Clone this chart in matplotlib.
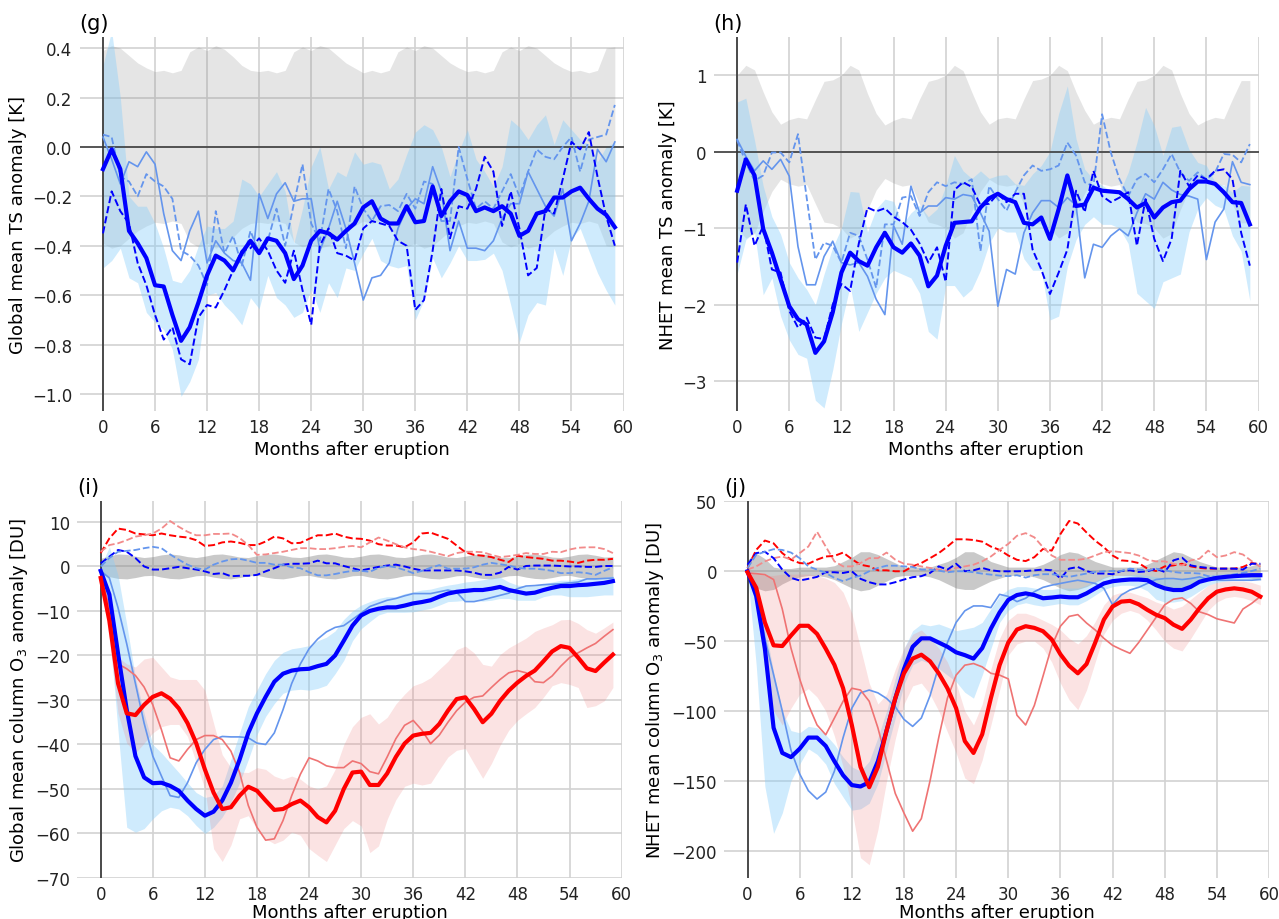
import matplotlib
matplotlib.use('Agg')
import matplotlib.pyplot as plt
import numpy as np

plt.rcParams['font.family'] = ['DejaVu Sans']

months = list(range(60))
xticks = list(range(0, 61, 6))

# ---------------- (g) Global mean TS ----------------
g_mean = [-0.09, -0.01, -0.09, -0.34, -0.39, -0.45, -0.56, -0.565, -0.68, -0.785,
          -0.73, -0.63, -0.52, -0.44, -0.46, -0.50, -0.43, -0.38, -0.43, -0.37,
          -0.38, -0.43, -0.535, -0.48, -0.38, -0.34, -0.35, -0.375, -0.34, -0.31,
          -0.245, -0.22, -0.29, -0.31, -0.31, -0.24, -0.305, -0.30, -0.16, -0.28,
          -0.22, -0.18, -0.195, -0.26, -0.245, -0.26, -0.24, -0.27, -0.36, -0.34,
          -0.27, -0.26, -0.205, -0.205, -0.18, -0.165, -0.21, -0.25, -0.275, -0.325]
g_thin = [0.04, -0.05, -0.15, -0.06, -0.08, -0.02, -0.07, -0.27, -0.42, -0.46,
          -0.34, -0.26, -0.47, -0.38, -0.43, -0.46, -0.47, -0.54, -0.19, -0.29,
          -0.19, -0.145, -0.22, -0.21, -0.21, -0.42, -0.33, -0.22, -0.33, -0.47,
          -0.62, -0.53, -0.52, -0.47, -0.33, -0.25, -0.21, -0.23, -0.08, -0.18,
          -0.42, -0.30, -0.41, -0.41, -0.42, -0.38, -0.29, -0.23, -0.23, -0.10,
          -0.17, -0.24, -0.28, -0.17, -0.38, -0.31, -0.22, -0.01, -0.06, 0.02]
g_cf_dash = [0.05, 0.04, -0.12, -0.14, -0.20, -0.11, -0.14, -0.16, -0.21, -0.42,
             -0.44, -0.48, -0.56, -0.26, -0.43, -0.36, -0.48, -0.34, -0.43, -0.38,
             -0.25, -0.40, -0.23, -0.07, -0.31, -0.38, -0.17, -0.26, -0.41, -0.16,
             -0.25, -0.30, -0.24, -0.235, -0.26, -0.19, -0.25, -0.14, -0.15, -0.30,
             -0.30, 0.00, -0.13, -0.25, -0.22, -0.25, -0.18, -0.11, -0.20, -0.10,
             -0.01, -0.04, -0.05, 0.00, 0.04, -0.10, 0.03, 0.04, 0.05, 0.17]
g_b_dash = [-0.35, -0.18, -0.26, -0.31, -0.47, -0.56, -0.68, -0.78, -0.73, -0.86,
            -0.88, -0.69, -0.64, -0.65, -0.58, -0.50, -0.42, -0.41, -0.37, -0.42,
            -0.50, -0.55, -0.42, -0.58, -0.72, -0.40, -0.33, -0.43, -0.44, -0.46,
            -0.33, -0.30, -0.31, -0.32, -0.38, -0.40, -0.66, -0.62, -0.42, -0.17,
            -0.37, -0.24, -0.25, -0.17, -0.04, -0.10, -0.32, -0.18, -0.33, -0.52,
            -0.49, -0.25, -0.27, -0.13, 0.02, -0.01, 0.06, -0.12, -0.28, -0.40]
g_band_hi = [0.33, 0.47, 0.20, -0.20, -0.24, -0.24, -0.31, -0.41, -0.54, -0.55,
             -0.50, -0.40, -0.32, -0.33, -0.33, -0.30, -0.13, -0.15, -0.20, -0.15,
             -0.10, -0.18, -0.39, -0.25, -0.08, 0.00, -0.17, -0.10, -0.12, -0.02,
             -0.07, -0.06, -0.07, -0.17, -0.13, -0.03, 0.06, 0.09, 0.07, 0.00,
             -0.12, -0.02, 0.07, -0.05, -0.10, -0.16, -0.08, 0.11, 0.08, 0.03,
             0.09, 0.13, 0.01, 0.11, 0.07, 0.03, 0.01, -0.06, 0.00, 0.02]
g_band_lo = [-0.49, -0.46, -0.41, -0.53, -0.55, -0.67, -0.71, -0.74, -0.82, -1.01,
             -0.95, -0.86, -0.60, -0.59, -0.64, -0.675, -0.72, -0.61, -0.655, -0.52,
             -0.61, -0.64, -0.69, -0.67, -0.575, -0.67, -0.55, -0.61, -0.49, -0.50,
             -0.43, -0.37, -0.46, -0.48, -0.49, -0.48, -0.70, -0.62, -0.45, -0.53,
             -0.47, -0.40, -0.46, -0.46, -0.455, -0.43, -0.50, -0.64, -0.79, -0.68,
             -0.63, -0.64, -0.41, -0.52, -0.37, -0.33, -0.42, -0.51, -0.58, -0.64]
g_ctrl_hi = [0.39, 0.41, 0.40, 0.37, 0.34, 0.32, 0.305, 0.31, 0.30, 0.31, 0.385, 0.405,
             0.39, 0.41, 0.395, 0.365, 0.33, 0.31, 0.305, 0.31, 0.30, 0.31, 0.385, 0.405,
             0.39, 0.41, 0.40, 0.37, 0.34, 0.32, 0.30, 0.31, 0.30, 0.31, 0.385, 0.405,
             0.39, 0.41, 0.40, 0.37, 0.34, 0.32, 0.305, 0.31, 0.30, 0.31, 0.385, 0.405,
             0.39, 0.41, 0.40, 0.37, 0.34, 0.32, 0.305, 0.31, 0.30, 0.31, 0.40, 0.405]
g_ctrl_lo = [-0.39, -0.41, -0.40, -0.37, -0.34, -0.32, -0.305, -0.31, -0.30, -0.31, -0.385, -0.405,
             -0.39, -0.41, -0.395, -0.365, -0.33, -0.31, -0.305, -0.31, -0.30, -0.31, -0.385, -0.405,
             -0.39, -0.41, -0.40, -0.37, -0.34, -0.32, -0.30, -0.31, -0.30, -0.31, -0.385, -0.405,
             -0.39, -0.41, -0.40, -0.37, -0.34, -0.32, -0.305, -0.31, -0.30, -0.31, -0.385, -0.405,
             -0.39, -0.41, -0.40, -0.37, -0.34, -0.32, -0.305, -0.31, -0.30, -0.31, -0.40, -0.405]

# ---------------- (h) NHET mean TS ----------------
h_mean = [-0.51, -0.10, -0.31, -1.01, -1.32, -1.67, -2.02, -2.19, -2.26, -2.63,
          -2.48, -2.10, -1.58, -1.32, -1.43, -1.49, -1.25, -1.06, -1.25, -1.32,
          -1.20, -1.36, -1.76, -1.62, -1.23, -0.93, -0.92, -0.91, -0.73, -0.61,
          -0.55, -0.62, -0.66, -0.93, -0.95, -0.86, -1.14, -0.75, -0.31, -0.71,
          -0.69, -0.47, -0.51, -0.52, -0.53, -0.62, -0.73, -0.67, -0.86, -0.73,
          -0.66, -0.64, -0.49, -0.39, -0.39, -0.42, -0.53, -0.66, -0.67, -0.95]
h_thin = [0.16, -0.06, -0.25, -0.12, -0.23, -0.10, -0.32, -1.24, -1.74, -1.74,
          -1.37, -1.17, -1.45, -1.48, -1.45, -1.63, -1.93, -2.13, -0.97, -1.21,
          -0.45, -0.80, -0.71, -0.71, -0.60, -0.62, -0.56, -0.58, -0.80, -1.04,
          -2.02, -1.54, -1.60, -1.06, -0.80, -0.64, -0.64, -0.73, -0.60, -0.70,
          -1.65, -1.21, -1.25, -1.10, -1.01, -1.10, -0.80, -0.55, -0.62, -0.40,
          -0.50, -0.56, -0.58, -0.62, -1.41, -0.92, -0.75, -0.13, -0.40, -0.43]
h_cf_dash = [0.15, -0.14, -0.38, -0.31, -0.01, -0.01, -0.14, 0.23, -0.60, -1.41,
             -1.19, -1.23, -1.45, -1.06, -1.10, -1.41, -1.78, -0.95, -0.95, -0.60,
             -0.58, -0.84, -0.53, -0.40, -0.45, -0.40, -0.42, -0.36, -1.30, -0.45,
             -0.62, -0.77, -0.53, -0.31, -0.18, -0.25, -0.23, -0.18, 0.12, -0.05,
             -0.40, -0.45, 0.49, -0.01, -0.36, -0.58, -0.36, -0.29, -0.40, -0.23,
             -0.03, -0.27, -0.38, -0.27, -0.36, -0.27, -0.03, -0.04, -0.14, 0.10]
h_b_dash = [-1.45, -0.69, -1.23, -0.97, -1.54, -1.58, -2.08, -2.30, -2.17, -2.43,
            -2.45, -2.00, -1.73, -1.82, -1.20, -0.73, -0.78, -0.74, -0.85, -0.92,
            -1.02, -1.20, -1.45, -1.25, -1.70, -0.50, -0.40, -0.46, -0.70, -0.68,
            -0.55, -0.66, -0.55, -0.55, -1.28, -1.54, -1.86, -1.58, -1.28, -0.51,
            -0.79, -0.25, -0.58, -0.66, -0.60, -0.53, -1.23, -0.62, -1.14, -1.43,
            -1.14, -0.25, -0.45, -0.31, -0.36, -0.25, -0.23, -0.36, -1.06, -1.49]
h_band_hi = [0.65, 0.70, 0.15, -0.45, -0.85, -1.08, -1.45, -1.65, -1.80, -2.00,
             -1.60, -1.25, -1.00, -0.52, -0.53, -1.05, -0.75, -0.62, -0.65, -0.95,
             -0.80, -0.70, -0.85, -0.75, -0.45, -0.05, -0.25, -0.35, -0.25, -0.35,
             -0.31, -0.30, -0.42, -0.44, -0.29, -0.18, 0.00, 0.50, 0.86, 0.17,
             -0.23, -0.36, -0.44, -0.51, -0.53, -0.27, 0.12, 0.58, 0.34, -0.05,
             0.32, 0.34, 0.03, -0.14, -0.18, -0.40, -0.44, -0.53, -0.44, -0.45]
h_band_lo = [-1.60, -1.15, -1.05, -1.87, -1.65, -2.15, -2.46, -2.65, -2.70, -3.25,
             -3.35, -2.85, -2.25, -1.75, -2.35, -2.10, -1.85, -1.65, -1.55, -1.60,
             -1.65, -1.85, -2.35, -2.45, -1.75, -1.75, -1.90, -1.80, -1.55, -1.20,
             -1.00, -1.05, -1.05, -1.40, -1.55, -1.55, -2.20, -2.15, -1.50, -1.15,
             -0.95, -0.85, -0.95, -0.95, -1.00, -1.20, -1.85, -1.95, -2.05, -1.70,
             -1.65, -1.60, -1.05, -0.75, -0.60, -0.70, -0.75, -1.10, -1.30, -1.95]
h_ctrl_hi = [1.00, 1.13, 1.07, 0.78, 0.52, 0.36, 0.42, 0.45, 0.43, 0.68, 0.92, 0.94,
             1.00, 1.13, 1.07, 0.76, 0.50, 0.35, 0.41, 0.45, 0.43, 0.69, 0.92, 0.95,
             1.00, 1.13, 1.06, 0.78, 0.52, 0.36, 0.43, 0.45, 0.43, 0.69, 0.93, 0.95,
             1.00, 1.13, 1.06, 0.78, 0.54, 0.36, 0.42, 0.45, 0.43, 0.69, 0.92, 0.94,
             1.00, 1.13, 1.07, 0.76, 0.50, 0.35, 0.41, 0.45, 0.43, 0.69, 0.93, 0.93]
h_ctrl_lo = [-1.00, -1.13, -1.07, -0.78, -0.52, -0.36, -0.42, -0.45, -0.43, -0.68, -0.92, -0.94,
             -1.00, -1.13, -1.07, -0.76, -0.50, -0.35, -0.41, -0.45, -0.43, -0.69, -0.92, -0.95,
             -1.00, -1.13, -1.06, -0.78, -0.52, -0.36, -0.43, -0.45, -0.43, -0.69, -0.93, -0.95,
             -1.00, -1.13, -1.06, -0.78, -0.54, -0.36, -0.42, -0.45, -0.43, -0.69, -0.92, -0.94,
             -1.00, -1.13, -1.07, -0.76, -0.50, -0.35, -0.41, -0.45, -0.43, -0.69, -0.93, -0.93]

# ---------------- (i) Global mean column O3 ----------------
i_mean = [-1.0, -6.3, -19.6, -32.2, -42.6, -47.4, -48.7, -48.6, -49.3, -50.4,
          -52.6, -54.5, -56.0, -55.1, -52.6, -48.6, -43.4, -37.4, -33.0, -29.3,
          -25.9, -24.1, -23.4, -23.1, -23.0, -22.4, -21.9, -20.0, -16.7, -13.3,
          -11.0, -10.0, -9.5, -9.2, -9.2, -8.8, -8.3, -8.0, -7.6, -6.8,
          -6.1, -5.7, -5.5, -5.3, -5.3, -5.0, -4.6, -5.3, -5.7, -6.1,
          -5.9, -5.3, -4.8, -4.4, -4.4, -4.2, -4.1, -3.9, -3.7, -3.3]
i_thin = [-1.0, -2.6, -9.3, -17.4, -26.3, -35.2, -42.6, -47.1, -51.5, -51.9,
          -48.6, -44.1, -41.1, -38.9, -38.2, -38.3, -38.3, -38.5, -39.7, -40.0,
          -37.4, -32.2, -26.3, -21.9, -18.5, -16.3, -14.7, -13.7, -13.3, -11.9,
          -10.5, -9.0, -8.3, -7.6, -7.2, -6.6, -6.1, -6.1, -6.1, -5.7,
          -5.3, -5.8, -7.9, -7.9, -7.5, -7.0, -6.5, -6.0, -5.0, -4.4,
          -4.3, -4.1, -4.0, -3.9, -3.7, -3.5, -2.8, -2.8, -2.7, -2.6]
i_b_dash = [0.7, 2.2, 3.7, 3.3, 1.9, 0.0, -0.7, -0.7, -0.4, -0.1,
            -0.4, -0.7, -1.1, -1.7, -1.5, -2.2, -2.1, -2.1, -1.9, -1.1,
            -0.4, 0.4, 0.6, 0.6, 0.7, 1.3, 0.7, 0.7, 0.1, -0.4,
            -0.9, -0.5, -0.1, 0.2, 0.4, 0.0, -0.5, -0.9, -0.9, -0.9,
            -0.9, -0.9, -1.1, -1.4, -1.9, -1.9, -1.4, -0.1, -0.7, 0.1,
            0.2, 0.2, 0.2, 0.1, 0.0, 0.0, -0.1, -0.1, 0.1, 0.1]
i_cf_dash = [0.0, 1.9, 3.3, 3.5, 3.7, 4.1, 4.4, 4.1, 2.7, 1.5,
             0.4, -0.4, -0.7, 0.4, 1.1, 1.6, 1.7, 1.3, 0.8, 0.8,
             0.4, 0.4, -0.2, -0.4, -1.3, -2.0, -2.0, -1.7, -1.3, -1.0,
             -1.0, -1.2, -0.3, 0.1, -0.2, -0.8, -1.5, -1.0, -0.3, 0.3,
             -0.5, -0.5, -0.5, -0.2, 0.4, 0.8, 0.5, 0.2, -0.3, -0.5,
             -0.5, -0.7, -1.0, -1.5, -1.5, -1.3, -1.5, -1.9, -1.0, -0.2]
i_red = [-2.6, -12.2, -26.3, -33.0, -33.4, -31.1, -29.3, -28.5, -29.7, -31.9,
         -35.2, -39.7, -45.6, -50.8, -54.5, -54.1, -51.5, -49.5, -50.4, -52.6,
         -54.7, -54.5, -53.4, -52.6, -54.1, -56.3, -57.5, -54.9, -50.0, -46.3,
         -46.1, -49.1, -49.1, -46.5, -42.8, -39.8, -38.0, -37.6, -37.4, -35.4,
         -32.4, -29.8, -29.4, -32.0, -35.0, -33.1, -30.2, -27.9, -26.1, -24.6,
         -23.4, -21.3, -19.1, -17.9, -18.3, -20.5, -22.9, -23.5, -21.6, -19.8]
i_red_thin = [-1.9, -9.3, -21.9, -23.0, -24.5, -27.1, -31.1, -36.7, -43.0, -43.7,
              -41.1, -38.9, -38.0, -38.0, -38.9, -41.5, -46.3, -53.7, -58.6, -61.5,
              -61.2, -57.1, -51.5, -46.7, -43.0, -43.7, -44.8, -45.2, -45.2, -43.7,
              -44.3, -46.1, -46.6, -42.8, -38.7, -35.7, -34.6, -36.8, -39.8, -37.9,
              -35.0, -32.4, -30.5, -29.4, -29.1, -27.2, -25.4, -23.9, -23.4, -23.9,
              -25.9, -26.1, -24.6, -22.4, -20.5, -19.4, -18.3, -17.3, -15.7, -14.2]
i_r_dash = [3.0, 6.3, 8.5, 8.2, 7.4, 7.2, 7.0, 7.4, 7.0, 6.7,
            6.5, 5.9, 4.6, 4.8, 5.4, 5.6, 5.3, 4.8, 4.8, 5.6,
            6.7, 6.3, 5.2, 5.3, 6.2, 7.0, 7.0, 7.4, 6.7, 6.3,
            6.2, 5.8, 5.0, 4.7, 4.7, 4.3, 5.4, 7.4, 7.6, 6.9,
            6.2, 4.7, 3.2, 2.6, 2.4, 2.1, 1.5, 1.0, 2.4, 2.1,
            1.9, 1.7, 1.3, 1.3, 1.1, 0.8, 1.3, 1.5, 1.5, 1.7]
i_lc_dash = [3.3, 4.8, 5.2, 5.9, 6.7, 7.0, 7.4, 8.5, 10.2, 8.9,
             7.8, 7.0, 7.0, 7.3, 7.3, 7.4, 6.4, 4.8, 2.6, 2.7,
             3.0, 3.3, 3.7, 4.1, 4.1, 3.9, 3.9, 4.1, 4.4, 4.6,
             4.3, 5.4, 6.5, 5.8, 5.0, 4.3, 3.9, 3.7, 3.3, 2.8,
             2.3, 3.0, 3.3, 3.3, 3.2, 2.6, 2.1, 2.3, 2.6, 3.0,
             2.8, 2.8, 3.3, 3.2, 3.8, 4.2, 4.3, 4.3, 3.9, 3.0]
i_band_hi = [0.0, 4.4, -2.0, -13.0, -25.0, -33.0, -40.0, -41.9, -44.1, -46.3,
             -48.6, -50.8, -51.9, -51.5, -49.3, -43.4, -37.4, -31.5, -27.8, -24.1,
             -21.1, -19.3, -18.5, -18.2, -17.8, -16.7, -15.9, -14.5, -11.9, -10.0,
             -8.7, -7.9, -7.2, -6.8, -6.8, -6.1, -5.7, -5.3, -5.1, -4.6,
             -4.2, -3.9, -3.5, -3.3, -3.0, -2.6, -2.4, -3.5, -4.2, -4.4,
             -4.4, -3.9, -3.5, -3.1, -3.1, -2.7, -2.7, -2.5, -2.5, -2.1]
i_band_lo = [-0.7, -14.0, -37.0, -58.6, -59.7, -58.9, -56.7, -54.9, -54.1, -54.5,
             -56.0, -58.2, -60.0, -58.6, -56.3, -53.0, -48.6, -43.4, -37.8, -33.7,
             -30.8, -28.5, -27.8, -27.6, -27.8, -27.4, -26.7, -24.1, -21.1, -16.7,
             -14.0, -12.4, -10.9, -10.3, -10.3, -10.3, -10.2, -9.8, -9.4, -8.7,
             -7.9, -7.8, -7.6, -7.6, -7.8, -7.6, -7.2, -7.2, -7.6, -7.6,
             -7.6, -6.8, -6.4, -6.4, -6.8, -6.8, -6.8, -6.6, -6.4, -6.4]
i_pink_hi = [-1.5, -9.3, -20.4, -21.9, -22.6, -20.8, -20.4, -22.6, -24.8, -25.4,
             -25.4, -25.4, -27.8, -35.2, -42.3, -45.2, -46.2, -46.3, -45.2, -45.6,
             -47.1, -47.8, -47.1, -47.8, -49.3, -50.0, -49.3, -45.6, -40.0, -36.0,
             -33.9, -33.1, -35.4, -33.9, -30.9, -28.7, -26.8, -26.1, -25.0, -23.1,
             -21.3, -18.7, -17.9, -19.4, -22.0, -22.4, -19.8, -18.3, -17.2, -16.1,
             -14.6, -13.8, -13.1, -12.0, -11.9, -12.8, -14.2, -15.0, -13.8, -12.5]
i_pink_lo = [-3.0, -16.7, -33.0, -39.7, -41.9, -39.7, -37.4, -36.0, -35.5, -35.5,
             -38.2, -44.1, -50.0, -63.4, -66.3, -62.6, -56.7, -56.0, -58.9, -61.2,
             -62.3, -61.5, -59.7, -60.4, -63.4, -64.9, -66.3, -62.6, -58.9, -57.1,
             -58.3, -64.3, -62.8, -56.8, -52.4, -49.4, -48.7, -49.1, -48.7, -45.7,
             -42.8, -41.3, -40.9, -44.3, -47.6, -44.3, -40.2, -36.8, -34.6, -33.1,
             -31.7, -29.4, -26.8, -26.1, -26.5, -27.2, -31.7, -31.3, -30.2, -27.2]
i_ctrl_hi = [1.8, 2.4, 2.8, 2.7, 2.3, 2.0, 2.2, 2.6, 2.8, 2.6, 2.2, 2.0,
             2.3, 2.7, 2.8, 2.5, 2.1, 2.0, 2.4, 2.7, 2.8, 2.5, 2.1, 2.0,
             2.3, 2.7, 2.8, 2.5, 2.1, 2.0, 2.3, 2.7, 2.8, 2.5, 2.1, 2.0,
             2.3, 2.7, 2.8, 2.5, 2.1, 2.0, 2.3, 2.7, 2.8, 2.5, 2.1, 2.0,
             2.3, 2.7, 2.8, 2.5, 2.1, 2.0, 2.3, 2.7, 2.8, 2.5, 2.1, 2.2]
i_ctrl_lo = [-1.8, -2.3, -2.7, -2.8, -2.5, -2.1, -2.0, -2.4, -2.7, -2.8, -2.5, -2.1,
             -2.0, -2.4, -2.7, -2.8, -2.5, -2.1, -2.0, -2.4, -2.7, -2.8, -2.5, -2.1,
             -2.0, -2.4, -2.7, -2.8, -2.5, -2.1, -2.0, -2.4, -2.7, -2.8, -2.5, -2.1,
             -2.0, -2.4, -2.7, -2.8, -2.5, -2.1, -2.0, -2.4, -2.7, -2.8, -2.5, -2.1,
             -2.0, -2.4, -2.7, -2.8, -2.5, -2.1, -2.0, -2.4, -2.7, -2.8, -2.5, -2.3]

# ---------------- (j) NHET mean column O3 ----------------
j_mean = [0.0, -17.7, -55.4, -112, -130, -133, -127, -119, -119, -125,
          -136, -146, -153, -154, -151, -136, -114, -91, -70, -54,
          -48, -48, -51, -54, -58, -60, -62.5, -55, -41, -29.5,
          -20.5, -17, -15.8, -17, -19.3, -18.8, -18.1, -18.6, -18.6, -15.8,
          -12.2, -8.7, -7.1, -6.4, -5.9, -5.9, -6.4, -9.9, -12.2, -13.4,
          -13.4, -11.1, -7.5, -5.9, -4.7, -4.0, -3.5, -3.1, -2.8, -2.8]
j_thin = [0.0, -10.6, -48, -74, -100, -128, -145, -157, -163, -158,
          -143, -119, -98, -87, -85, -87, -91, -97, -106, -111,
          -105, -89, -68, -51, -36.6, -28.3, -24.8, -24.8, -26, -16.5,
          -18, -21.7, -19.3, -14.6, -11.5, -9.9, -8.7, -7.5, -6.4, -7.5,
          -8.7, -12.2, -24, -17, -13.4, -11.5, -8.7, -5.9, -5.2, -5.2,
          -5.9, -5.2, -4.0, -5.9, -6.4, -6.4, -6.4, -6.4, -6.4, -5.9]
j_b_dash = [4.7, 13, 14, 9.4, 1.2, -4.7, -6.6, -5.4, -4.0, -0.7,
            -0.7, -1.2, 0.0, -5.4, -7.8, -9.4, -9.4, -7.8, -5.9, -4.2,
            -3.5, -1.2, 3.5, 1.2, 5.4, 0.0, 0.7, 2.4, 0.7, 0.0,
            0.0, 0.0, 0.2, 0.7, 1.2, 0.7, -5.2, 1.9, 3.1, 0.2,
            -1.6, -1.6, -2.1, 0.2, 0.7, -0.5, 0.0, 1.9, -0.5, 7.8,
            9.7, 4.2, 3.1, 2.4, 1.9, 1.9, 1.9, 1.2, 5.4, 5.4]
j_cf_dash = [2.4, 11.8, 14, 15.8, 15.3, 13.4, 9.4, 3.5, 1.2, -1.2,
             -4.7, -7.1, -4.7, -3.1, 0.0, 2.4, 4.0, 4.0, 3.5, 3.1,
             1.2, 1.2, 0.5, -0.7, 0.0, 0.0, -0.7, -1.7, -2.4, -3.1,
             -3.5, -2.8, -4.5, -2.8, -2.1, -2.1, -2.8, -4.0, -2.8, -1.6,
             -0.5, 0.0, 0.2, 0.2, 1.9, 1.2, 0.7, 1.9, 0.7, -0.5,
             -1.2, -1.2, -1.6, -3.5, -4.0, -3.5, -2.1, -1.2, 0.2, 1.9]
j_red = [-0.7, -11.8, -36.6, -53, -53.5, -46, -39, -39, -44.8, -55.4,
         -67, -83.7, -110, -140, -154.5, -140, -114, -91, -73, -62.5,
         -59.7, -64.4, -73, -83.7, -98, -121.5, -130, -116.7, -90.8, -67.2,
         -51, -41.7, -39.3, -40.5, -42.9, -48.8, -59.4, -67.6, -73, -66.4,
         -51.1, -34.6, -25.2, -21.7, -21.2, -23.6, -27.6, -31.1, -33.5, -38.2,
         -41.2, -34.6, -26.4, -19.3, -14.6, -13, -12.2, -13, -14.6, -18.1]
j_red_thin = [-1.2, -1.7, -2.4, -5.9, -27, -55, -77, -95.5, -110, -117,
              -105, -93, -83.7, -85, -93, -112, -135.6, -159, -173, -186,
              -177, -150, -119, -90.8, -74.3, -67.2, -66, -68.4, -73, -74.3,
              -77, -103, -110, -96, -75, -53.5, -39.3, -32.3, -31, -37,
              -42, -48, -53, -56, -58.7, -51, -42, -33, -24, -20,
              -19, -23, -29, -31, -34, -35.5, -37, -27, -23, -18]
j_r_dash = [2.4, 15.3, 22, 20, 13, 8.3, 5.9, 5.4, 8.3, 10.6,
            11, 13.4, 8.7, 4.7, 3.5, 0.7, 0.7, 0.0, 0.0, 3.5,
            5.9, 9.4, 13, 17.7, 22.9, 22.9, 22.4, 21.2, 17.7, 15.3,
            11.3, 8.2, 7.3, 10.1, 16, 14.8, 26.6, 36, 34.2, 27.8,
            21.9, 17.2, 11.3, 7.8, 7.3, 5.9, 1.9, 0.2, 3.5, 4.2,
            5.4, 3.5, 2.4, 1.9, 1.9, 1.9, 1.9, 3.1, 5.9, 4.9]
j_lc_dash = [1.2, 3.5, 7.1, 9.4, 10.6, 8.3, 13, 17.7, 28.3, 17.7,
             7.1, 3.5, 3.5, 5.9, 9.4, 9.4, 13.4, 8.3, 5.4, 4.7,
             3.5, 2.4, 1.2, 0.5, 2.4, 3.5, 4.7, 7.1, 10.6, 15.3,
             19.6, 25.4, 27.3, 24.3, 17.2, 11.3, 8.2, 8.2, 8.2, 9.0,
             11.3, 13.7, 14.4, 13.7, 13.0, 11.3, 8.2, 7.1, 7.1, 5.4,
             4.2, 7.8, 9.0, 14.8, 10.1, 11.3, 13.7, 12.0, 7.3, 3.1]
j_band_hi = [0.0, -10.6, -39, -72, -100, -114, -115.6, -111, -112, -117,
             -124, -133, -140, -143, -136, -119, -100, -76.7, -55.4, -42.5,
             -37.7, -39, -37.7, -40, -42.5, -41.3, -40, -36.6, -27, -17.7,
             -13, -11, -11, -12, -13, -13, -12, -12, -12, -10,
             -7, -4, -3, -3, -2.5, -2, -3, -4, -5, -6,
             -5, -4, -3.5, -2.5, -2, -1.5, -1.5, -1.5, -1, -1]
j_band_lo = [-1, -67, -154, -187.5, -173, -150, -138, -127, -131, -138,
             -152, -161.6, -171, -170, -166, -152, -128.5, -105, -81, -67,
             -63.7, -66, -69.6, -74.3, -79, -86.6, -90.8, -74.3, -55.4, -36.6,
             -28, -24, -22.5, -24, -25, -24, -23, -24, -24, -21,
             -17, -13, -11, -10, -10, -11, -14, -20, -22, -22,
             -21, -18, -14, -10, -8, -7, -6.5, -6, -6, -6]
j_pink_hi = [-0.5, -2, -3, -3, -2, -2, -2, -2, -3, -5,
             -8, -15, -30, -55, -80, -95, -88, -70, -55, -45,
             -42, -48, -55, -65, -80, -100, -110, -95, -70, -48,
             -35, -30, -30, -32, -35, -38, -42, -48, -52, -46,
             -36, -24, -17, -15, -15, -17, -19, -22, -24, -27,
             -25, -20, -15, -10, -8, -7, -7, -7, -8, -10]
j_pink_lo = [-1, -25, -70, -100, -110, -98, -88, -84, -90, -100,
             -118, -140, -170, -205, -210, -185, -150, -120, -95, -82,
             -80, -88, -100, -115, -130, -148, -152, -135, -110, -85,
             -60, -52, -50, -50, -55, -65, -80, -92, -99, -85,
             -65, -45, -35, -30, -28, -30, -35, -42, -50, -55,
             -57, -48, -38, -28, -22, -19, -18, -19, -21, -24]
j_ctrl_hi = [8, 13, 9, 3, 2, 2, 3, 3, 3, 3, 4, 7,
             10, 14, 14, 12, 9, 6, 3, 3, 3, 3, 5, 7,
             10, 14, 14, 11, 7, 5, 3, 3, 3, 3, 5, 8,
             12, 14, 13, 10, 7, 5, 3, 3, 3, 3, 5, 8,
             11, 14, 13, 10, 7, 5, 3, 3, 3, 3, 4, 6]
j_ctrl_lo = [-7, -12, -14, -13, -9, -6, -4, -3, -3, -4, -6, -9,
             -12, -14, -13, -10, -7, -4, -3, -3, -3, -4, -6, -9,
             -12, -13, -13, -10, -7, -5, -3, -3, -3, -4, -6, -9,
             -12, -14, -13, -11, -8, -5, -3, -3, -3, -4, -6, -9,
             -12, -13, -12, -9, -6, -4, -3, -3, -3, -4, -5, -6]

# ---------------- styling ----------------
BLUE = '#0000ff'
CF = '#6495ed'
RED = '#ff0000'
LRED = '#ef7373'
LRED_D = '#f28a8a'
SKY = '#87cefa'

fig = plt.figure(figsize=(12.79, 9.2), dpi=100)


def base(ax, ylim, yticks, ylabel, title, zero_line, xlabelpad):
    ax.set_xlim(-2.7, 60)
    ax.set_ylim(*ylim)
    ax.set_xticks(xticks)
    ax.set_yticks(yticks)
    ax.set_axisbelow(True)
    ax.grid(True, color='#d2d2d2', lw=1.2)
    for s in ax.spines.values():
        s.set_visible(False)
    ax.tick_params(length=0, labelsize=12, pad=5, colors='#222222')
    ax.axvline(0, color='#333333', lw=1.2, zorder=1.5)
    if zero_line:
        ax.axhline(0, color='#333333', lw=1.1, zorder=1.5)
    ax.set_xlabel('Months after eruption', fontsize=13, labelpad=xlabelpad)
    ax.set_ylabel(ylabel, fontsize=13)
    ax.set_title(title, loc='left', fontsize=15, pad=6)


# (g)
ax = fig.add_axes([0.0622, 0.5522, 0.4253, 0.4065])
base(ax, (-1.069, 0.445), [-1.0, -0.8, -0.6, -0.4, -0.2, 0.0, 0.2, 0.4],
     'Global mean TS anomaly [K]', '(g)', True, 3)
ax.set_yticklabels(['\u22121.0', '\u22120.8', '\u22120.6', '\u22120.4', '\u22120.2', '0.0', '0.2', '0.4'])
ax.fill_between(months, g_ctrl_lo, g_ctrl_hi, color='grey', alpha=0.2, lw=0)
ax.fill_between(months, g_band_lo, g_band_hi, color=SKY, alpha=0.4, lw=0)
ax.plot(months, g_thin, color=CF, lw=1.2)
ax.plot(months, g_cf_dash, color=CF, lw=1.3, ls='--')
ax.plot(months, g_b_dash, color=BLUE, lw=1.4, ls='--')
ax.plot(months, g_mean, color=BLUE, lw=3)

# (h)
ax = fig.add_axes([0.5580, 0.5522, 0.4260, 0.4065])
base(ax, (-3.39, 1.5), [-3, -2, -1, 0, 1],
     'NHET mean TS anomaly [K]', '(h)', True, 3)
ax.fill_between(months, h_ctrl_lo, h_ctrl_hi, color='grey', alpha=0.2, lw=0)
ax.fill_between(months, h_band_lo, h_band_hi, color=SKY, alpha=0.4, lw=0)
ax.plot(months, h_thin, color=CF, lw=1.2)
ax.plot(months, h_cf_dash, color=CF, lw=1.3, ls='--')
ax.plot(months, h_b_dash, color=BLUE, lw=1.4, ls='--')
ax.plot(months, h_mean, color=BLUE, lw=3)

# bottom row: axes from y=502 px to y=879 px
BOT_Y0 = 1 - 879 / 920
BOT_H = 377 / 920

# (i)
ax = fig.add_axes([0.0604, BOT_Y0, 0.4256, BOT_H])
base(ax, (-70, 14.7), list(range(-70, 11, 10)),
     'Global mean column O$_3$ anomaly [DU]', '(i)', False, 0)
ax.fill_between(months, i_ctrl_lo, i_ctrl_hi, color='grey', alpha=0.42, lw=0)
ax.fill_between(months, i_band_lo, i_band_hi, color=SKY, alpha=0.4, lw=0)
ax.fill_between(months, i_pink_lo, i_pink_hi, color='lightcoral', alpha=0.22, lw=0)
ax.plot(months, i_r_dash, color=RED, lw=1.4, ls='--')
ax.plot(months, i_lc_dash, color=LRED_D, lw=1.3, ls='--')
ax.plot(months, i_b_dash, color=BLUE, lw=1.4, ls='--')
ax.plot(months, i_cf_dash, color=CF, lw=1.3, ls='--')
ax.plot(months, i_thin, color=CF, lw=1.2)
ax.plot(months, i_red_thin, color=LRED, lw=1.2)
ax.plot(months, i_mean, color=BLUE, lw=3)
ax.plot(months, i_red, color=RED, lw=3)

# (j)
ax = fig.add_axes([0.5661, BOT_Y0, 0.4261, BOT_H])
base(ax, (-219.5, 50.3), [-200, -150, -100, -50, 0, 50],
     'NHET mean column O$_3$ anomaly [DU]', '(j)', False, 0)
ax.fill_between(months, j_ctrl_lo, j_ctrl_hi, color='grey', alpha=0.42, lw=0)
ax.fill_between(months, j_band_lo, j_band_hi, color=SKY, alpha=0.4, lw=0)
ax.fill_between(months, j_pink_lo, j_pink_hi, color='lightcoral', alpha=0.22, lw=0)
ax.plot(months, j_r_dash, color=RED, lw=1.4, ls='--')
ax.plot(months, j_lc_dash, color=LRED_D, lw=1.3, ls='--')
ax.plot(months, j_b_dash, color=BLUE, lw=1.4, ls='--')
ax.plot(months, j_cf_dash, color=CF, lw=1.3, ls='--')
ax.plot(months, j_thin, color=CF, lw=1.2)
ax.plot(months, j_red_thin, color=LRED, lw=1.2)
ax.plot(months, j_mean, color=BLUE, lw=3)
ax.plot(months, j_red, color=RED, lw=3)

fig.savefig('out.png', dpi=100)
